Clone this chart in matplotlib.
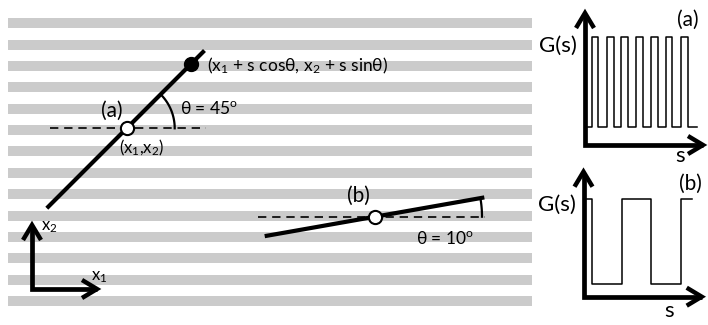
import matplotlib.pyplot as plt
import numpy as np

# all positions are in pixel units of the 708x325 image (y down)
stripe_tops = [18, 39.5, 61, 82, 103.5, 125, 146, 167.5, 189, 210.5, 231.5, 253, 274.5, 296]
stripe_left, stripe_right, stripe_h = 8, 532, 10

# line (a)
center_a = (126.7, 128.3)
theta_a = 45
extent_a = (-113, 110)
point_s = 90.5
arc_r_a = 48

# line (b)
center_b = (375, 216.7)
theta_b = 10
extent_b = (-112, 111)
arc_r_b = 107

# G(s) panel (a): pulse edges (s) and levels
pulse_on_a = [592, 607, 621, 636, 651, 665.5, 681]
pulse_off_a = [598, 613.5, 628, 642.5, 657.5, 672, 688]
g_a_start, g_a_end = 586, 697
g_a_high, g_a_low = 37.3, 126.7

# G(s) panel (b): step edges and levels (1 = high, 0 = low)
edges_b = [586, 592, 622, 651, 681, 692]
levels_b = [1, 0, 1, 0, 1]
g_b_high, g_b_low = 199, 284

plt.rcParams['font.family'] = ['Lato', 'DejaVu Sans']
plt.rcParams['mathtext.fontset'] = 'custom'
plt.rcParams['mathtext.rm'] = 'Lato'
plt.rcParams['mathtext.it'] = 'Lato'
plt.rcParams['mathtext.fallback'] = 'stixsans'

fig = plt.figure(figsize=(7.08, 3.25), dpi=100)
ax = fig.add_axes([0, 0, 1, 1])
ax.set_xlim(0, 708)
ax.set_ylim(325, 0)
ax.axis('off')

# background stripes
ax.barh([t + stripe_h / 2 for t in stripe_tops], stripe_right - stripe_left,
        left=stripe_left, height=stripe_h, color='#cbcbcb', zorder=0)


def chevron(tip, direction, length=15, half=9, lw=3.2):
    dx, dy = direction
    px, py = -dy, dx
    bx, by = tip[0] - dx * length, tip[1] - dy * length
    ax.plot([bx + px * half, tip[0], bx - px * half],
            [by + py * half, tip[1], by - py * half],
            color='k', lw=lw, solid_joinstyle='miter', solid_capstyle='butt', zorder=5)


def axes_L(corner, top, right, lw=3.4):
    ax.plot([corner[0], corner[0], right], [top + 2, corner[1], corner[1]],
            color='k', lw=lw, solid_joinstyle='miter', solid_capstyle='butt', zorder=5)
    chevron((corner[0], top), (0, -1))
    chevron((right, corner[1]), (1, 0))


def oriented_line(center, theta, extent, arc_r, dash_span):
    t = np.radians(theta)
    ux, uy = np.cos(t), -np.sin(t)
    cx, cy = center
    ax.plot([cx + extent[0] * ux, cx + extent[1] * ux],
            [cy + extent[0] * uy, cy + extent[1] * uy],
            color='k', lw=3, solid_capstyle='butt', zorder=3)
    ax.plot([cx + dash_span[0], cx + dash_span[1]], [cy, cy],
            color='k', lw=1.2, dashes=(5, 3.5), zorder=2)
    a = np.linspace(0, t, 40)
    ax.plot(cx + arc_r * np.cos(a), cy - arc_r * np.sin(a), color='k', lw=1.6, zorder=2)
    ax.plot(cx, cy, 'o', ms=9.5, mfc='white', mec='k', mew=1.5, zorder=4)
    return ux, uy


ux, uy = oriented_line(center_a, theta_a, extent_a, arc_r_a, (-77, 79))
ax.plot(center_a[0] + point_s * ux, center_a[1] + point_s * uy, 'o', ms=10, color='k', zorder=4)
oriented_line(center_b, theta_b, extent_b, arc_r_b, (-117, 110))

fs = 15
ax.text(112, 110.5, '(a)', fontsize=fs, ha='center', va='center')
ax.text(180, 108, r'θ = 45$^\mathrm{o}$', fontsize=12.5, ha='left', va='center')
ax.text(119, 148, r'(x$_1$,x$_2$)', fontsize=12, ha='left', va='center')
ax.text(207, 66, r'(x$_1$ + s cosθ, x$_2$ + s sinθ)', fontsize=12.5, ha='left', va='center')
ax.text(358, 196, '(b)', fontsize=fs, ha='center', va='center')
ax.text(416, 238, r'θ = 10$^\mathrm{o}$', fontsize=12.5, ha='left', va='center')

# coordinate frame
axes_L((32, 289), 225, 97)
ax.text(41, 227, r'x$_2$', fontsize=12, ha='left', va='center')
ax.text(91, 277, r'x$_1$', fontsize=12, ha='left', va='center')

# G(s) panel (a)
xs, ys = [g_a_start], [g_a_low]
for on, off in zip(pulse_on_a, pulse_off_a):
    xs += [on, on, off, off]
    ys += [g_a_low, g_a_high, g_a_high, g_a_low]
xs.append(g_a_end)
ys.append(g_a_low)
ax.plot(xs, ys, color='k', lw=1.1, zorder=4)
axes_L((585, 145), 13, 703)
ax.text(577, 45.5, 'G(s)', fontsize=16, ha='right', va='center')
ax.text(688, 20, '(a)', fontsize=fs, ha='center', va='center')
ax.text(680, 156, 's', fontsize=16, ha='center', va='center')

# G(s) panel (b)
yb = [g_b_high if v else g_b_low for v in levels_b]
ax.step(edges_b, yb + [yb[-1]], where='post', color='k', lw=1.1, zorder=4)
axes_L((583.5, 296.7), 171.7, 701.7)
ax.text(576, 204.5, 'G(s)', fontsize=16, ha='right', va='center')
ax.text(690, 184, '(b)', fontsize=fs, ha='center', va='center')
ax.text(669, 311, 's', fontsize=16, ha='center', va='center')

plt.savefig('out.png', dpi=100)
